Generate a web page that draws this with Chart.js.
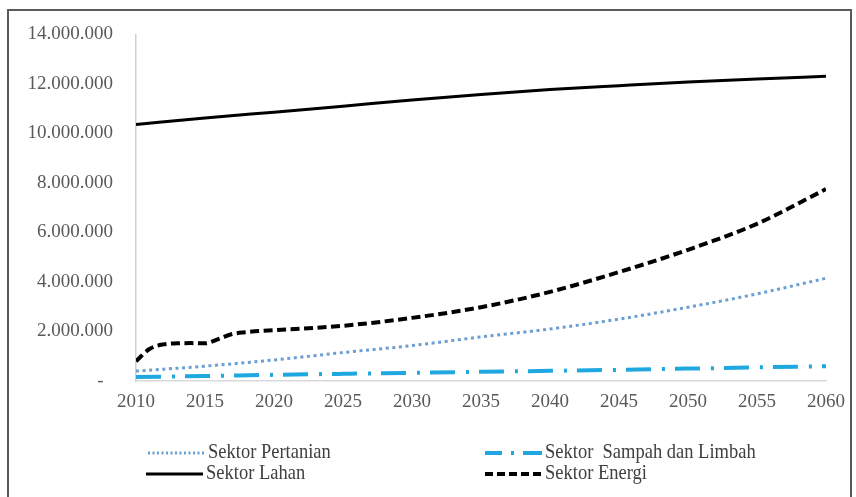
<!DOCTYPE html>
<html>
<head>
<meta charset="utf-8">
<script src="https://cdn.jsdelivr.net/npm/chart.js@4"></script>
<style>
    body { margin: 0; background: #fff; }
    #wrap { position: relative; width: 856px; height: 497px; overflow: hidden; }
    #frame { position: absolute; left: 7px; top: 9px; width: 845px; height: 500px; border: 2px solid #5a5a5a; box-sizing: border-box; }
    canvas { position: absolute; left: 0; top: 0; }
</style>
</head>
<body>
<div id="wrap">
    <div id="frame"></div>
    <canvas id="emisiChart" width="856" height="497"></canvas>
</div>
<script>
const years = [2010, 2015, 2020, 2025, 2030, 2035, 2040, 2045, 2050, 2055, 2060];
const pertanian = [400000, 600000, 850000, 1150000, 1430000, 1780000, 2100000, 2500000, 2980000, 3520000, 4150000];
const sampah = [160000, 200000, 250000, 290000, 330000, 370000, 410000, 450000, 500000, 550000, 600000];
const lahan = [10360000, 10620000, 10860000, 11100000, 11350000, 11570000, 11770000, 11930000, 12080000, 12200000, 12310000];

const energiYears = [2010, 2011, 2012, 2013, 2014, 2015, 2016, 2017, 2018, 2019, 2020, 2025, 2030, 2035, 2040, 2045, 2050, 2055, 2060];
const energi = [800000, 1300000, 1480000, 1520000, 1530000, 1520000, 1700000, 1900000, 1970000, 2020000, 2050000, 2230000, 2550000, 2980000, 3600000, 4400000, 5300000, 6350000, 7750000];

const xTicks = [2010, 2015, 2020, 2025, 2030, 2035, 2040, 2045, 2050, 2055, 2060];

const SERIF = "'Liberation Serif', 'Times New Roman', serif";

function toPoints(xs, ys) {
    return xs.map((x, i) => ({ x: x, y: ys[i] }));
}

function formatNum(v) {
    if (v === 0) return "-  ";
    return String(v).replace(/\B(?=(\d{3})+(?!\d))/g, ".");
}

// legend drawn in two columns like the original figure
const legendItems = [
    { ds: 0, x: 148, y: 453 },
    { ds: 1, x: 485, y: 453 },
    { ds: 2, x: 146, y: 474 },
    { ds: 3, x: 485, y: 474 }
];

const legendPlugin = {
    id: "twoColLegend",
    afterDraw(chart) {
        const ctx = chart.ctx;
        legendItems.forEach(item => {
            const ds = chart.data.datasets[item.ds];
            ctx.save();
            ctx.strokeStyle = ds.borderColor;
            ctx.lineWidth = ds.borderWidth;
            ctx.setLineDash(ds.legendDash || ds.borderDash || []);
            ctx.beginPath();
            ctx.moveTo(item.x, item.y);
            ctx.lineTo(item.x + 57, item.y);
            ctx.stroke();
            ctx.setLineDash([]);
            ctx.fillStyle = "#404040";
            ctx.font = "18.5px " + SERIF;
            ctx.textBaseline = "middle";
            ctx.translate(item.x + 60, item.y);
            ctx.scale(1, 1.12);
            ctx.fillText(ds.label, 0, 0);
            ctx.restore();
        });
    }
};

const chart = new Chart(document.getElementById("emisiChart"), {
    type: "line",
    data: {
        datasets: [{
            label: "Sektor Pertanian",
            data: toPoints(years, pertanian),
            borderColor: "#6b9fd3",
            borderWidth: 3,
            borderDash: [3, 3.6],
            legendDash: [2, 2.5]
        }, {
            label: "Sektor  Sampah dan Limbah",
            data: toPoints(years, sampah),
            borderColor: "#1fa8e0",
            borderWidth: 4,
            borderDash: [25, 11, 3, 10],
            legendDash: [17, 9, 3, 9, 8, 0]
        }, {
            label: "Sektor Lahan",
            data: toPoints(years, lahan),
            borderColor: "#000000",
            borderWidth: 3
        }, {
            label: "Sektor Energi",
            data: toPoints(energiYears, energi),
            borderColor: "#000000",
            borderWidth: 4,
            borderDash: [9, 4.5],
            legendDash: [8, 4]
        }]
    },
    options: {
        responsive: false,
        animation: false,
        layout: { padding: { top: 33, right: 30, bottom: 76, left: 0 } },
        elements: {
            point: { radius: 0 },
            line: { cubicInterpolationMode: "monotone", fill: false }
        },
        plugins: {
            legend: { display: false },
            tooltip: { enabled: false }
        },
        scales: {
            x: {
                type: "linear",
                min: 2010,
                max: 2060,
                afterBuildTicks: scale => { scale.ticks = xTicks.map(v => ({ value: v })); },
                afterFit: scale => { scale.height = 40; },
                grid: { display: false, drawTicks: false },
                border: { color: "#d9d9d9", width: 1.5 },
                ticks: {
                    padding: 10,
                    color: "#595959",
                    font: { family: SERIF, size: 19 },
                    callback: v => String(v),
                    maxRotation: 0
                }
            },
            y: {
                min: 0,
                max: 14000000,
                afterFit: scale => { scale.width = 136; },
                grid: { display: false, drawTicks: false },
                border: { color: "#d0d0d0", width: 1.5 },
                ticks: {
                    stepSize: 2000000,
                    padding: 23,
                    color: "#595959",
                    font: { family: SERIF, size: 19 },
                    callback: v => formatNum(v)
                }
            }
        }
    },
    plugins: [legendPlugin]
});
</script>
</body>
</html>
